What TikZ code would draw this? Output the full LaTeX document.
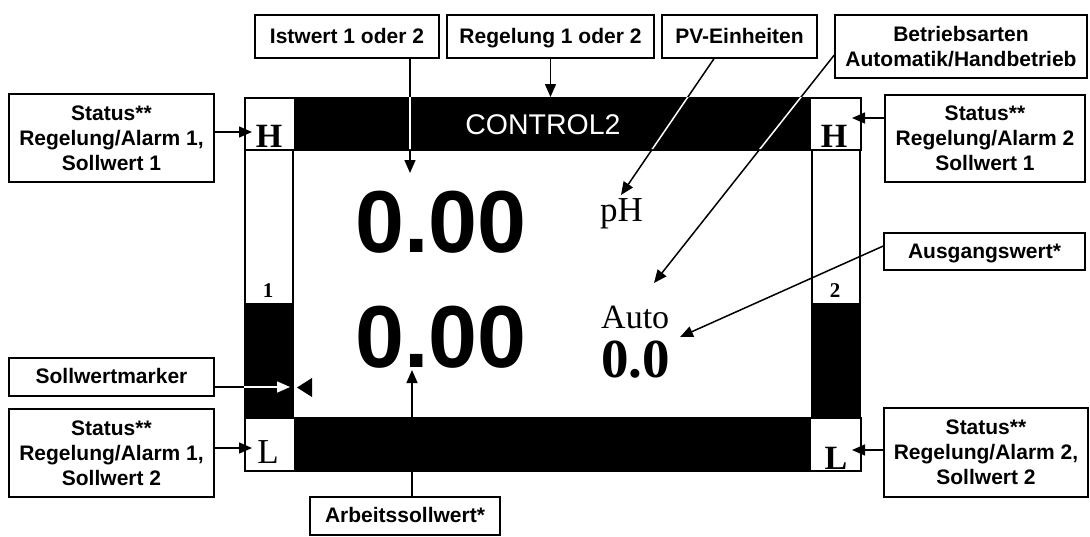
\documentclass[tikz,border=0pt]{standalone}
\usepackage{fontspec}
\setmainfont{Liberation Serif}
\newfontfamily\hv{Liberation Sans}
\usetikzlibrary{arrows.meta}
\begin{document}
\begin{tikzpicture}[x=1pt,y=-1pt,
  lbl/.style={draw, line width=1.4pt, fill=white, inner sep=0pt, align=center, font=\hv\bfseries\fontsize{21}{25}\selectfont},
  one/.style={text height=15pt, text depth=1.5pt},
  arr/.style={line width=1.5pt, -{Triangle[length=13pt,width=11pt]}},
  wbox/.style={draw, line width=1.5pt, fill=white, inner sep=0pt, anchor=north west},
  bbox/.style={draw, line width=1.5pt, fill=black, inner sep=0pt, anchor=north west},
  big/.style={font=\hv\bfseries\fontsize{88}{88}\selectfont, anchor=base, inner sep=0pt},
  hl/.style={font=\bfseries\fontsize{34}{34}\selectfont, anchor=base, inner sep=0pt},
  num/.style={font=\bfseries\fontsize{21}{21}\selectfont, anchor=base, inner sep=0pt},
]
\useasboundingbox (0,0) rectangle (1090,536);

% display
\node[bbox, minimum width=515pt, minimum height=52pt] (bartop) at (294,97) {};
\node[bbox, minimum width=515pt, minimum height=53pt] (barbot) at (294,417) {};
\node[wbox, minimum width=48pt, minimum height=154pt] (colL) at (244,149) {};
\node[bbox, minimum width=48pt, minimum height=114pt] (colLb) at (244,303) {};
\node[wbox, minimum width=48pt, minimum height=154pt] (colR) at (811,149) {};
\node[bbox, minimum width=48pt, minimum height=114pt] (colRb) at (811,303) {};
\node[wbox, minimum width=50pt, minimum height=52pt] (Hl) at (244,97) {};
\node[wbox, minimum width=51pt, minimum height=52pt] (Hr) at (809,97) {};
\node[wbox, minimum width=50pt, minimum height=53pt] (Ll) at (244,417) {};
\node[wbox, minimum width=51pt, minimum height=53pt] (Lr) at (809,417) {};

\node[hl] (hlt) at (269,147) {H};
\node[hl] (hrt) at (834,147) {H};
\node[font=\fontsize{35}{35}\selectfont, anchor=base, inner sep=0pt] (llt) at (268,463) {L};
\node[hl] (lrt) at (836,469) {L};
\node[num] (n1) at (268,297) {1};
\node[num] (n2) at (835,297) {2};

\node[font=\hv\fontsize{28.5}{28.5}\selectfont, text=white, anchor=base, inner sep=0pt] (ctl) at (543,134) {CONTROL2};
\node[big] (v1) at (441,252) {0.00};
\node[big] (v2) at (441,367) {0.00};
\node[font=\fontsize{35}{35}\selectfont, anchor=base west, inner sep=0pt] (ph) at (600,221) {pH};
\node[font=\fontsize{34}{34}\selectfont, anchor=base west, inner sep=0pt] (auto) at (601,328) {Auto};
\node[font=\bfseries\fontsize{55}{55}\selectfont, anchor=base west, inner sep=0pt] (out) at (601,377) {0.0};
\fill (297,387.5) -- (312,378) -- (312,397) -- cycle;

% label boxes
\node[lbl, one, minimum width=184pt, minimum height=43pt] (ist) at (347,36.5) {Istwert 1 oder 2};
\node[lbl, one, minimum width=207pt, minimum height=43pt] (reg) at (550.5,36.5) {Regelung 1 oder 2};
\node[lbl, one, minimum width=155pt, minimum height=43pt] (pv) at (739.5,36.5) {PV-Einheiten};
\node[lbl, minimum width=252pt, minimum height=63pt] (betr) at (961,46.5) {Betriebsarten\\Automatik/Handbetrieb};
\node[lbl, minimum width=205pt, minimum height=88pt] (s1) at (111.5,138) {Status**\\Regelung/Alarm 1,\\Sollwert 1};
\node[lbl, minimum width=200pt, minimum height=87pt] (s2) at (985,138.5) {Status**\\Regelung/Alarm 2\\Sollwert 1};
\node[lbl, one, minimum width=201pt, minimum height=37pt] (ausg) at (984.5,251.5) {Ausgangswert*};
\node[lbl, one, minimum width=205pt, minimum height=38pt] (mark) at (111.5,377) {Sollwertmarker};
\node[lbl, minimum width=205pt, minimum height=88pt] (s3) at (111.5,453) {Status**\\Regelung/Alarm 1,\\Sollwert 2};
\node[lbl, minimum width=204pt, minimum height=89pt] (s4) at (986,452.5) {Status**\\Regelung/Alarm 2,\\Sollwert 2};
\node[lbl, one, minimum width=190pt, minimum height=38pt] (arb) at (405,516) {Arbeitssollwert*};

% coordinates
\coordinate (istT) at (410,173);
\coordinate (pvS) at (714,58);
\coordinate (pvT) at (621,195);
\coordinate (bS) at (836,55);
\coordinate (bT) at (654,283);
\coordinate (aS) at (884,246);
\coordinate (aT) at (680,337);
\coordinate (arbT) at (412,370);
\coordinate (t1) at (252,132);
\coordinate (t2) at (852,118);
\coordinate (t3) at (252,448);
\coordinate (t4) at (852,450);
\coordinate (tm) at (290,387);

% connectors
\draw[arr] (ist.south -| istT) -- (istT);
\draw[arr] (reg.south) -- (reg.south |- bartop.north);
\draw[arr] (pv.south -| pvS) -- (pvT);
\draw[arr] (betr.west |- bS) -- (bT);
\draw[arr] (ausg.west |- aS) -- (aT);
\draw[arr] (arb.north -| arbT) -- (arbT);
\draw[arr] (s1.east |- t1) -- (t1);
\draw[arr] (s2.west |- t2) -- (t2);
\draw[arr] (s3.east |- t3) -- (t3);
\draw[arr] (s4.west |- t4) -- (t4);
\draw[arr] (mark.east |- tm) -- (tm);

% white where connectors cross black areas
\begin{scope}
\clip (294,97) rectangle (809,149) (244,303) rectangle (292,417);
\draw[arr, white] (ist.south -| istT) -- (istT);
\draw[arr, white] (pv.south -| pvS) -- (pvT);
\draw[arr, white] (betr.west |- bS) -- (bT);
\draw[arr, white] (mark.east |- tm) -- (tm);
\end{scope}
\end{tikzpicture}
\end{document}
